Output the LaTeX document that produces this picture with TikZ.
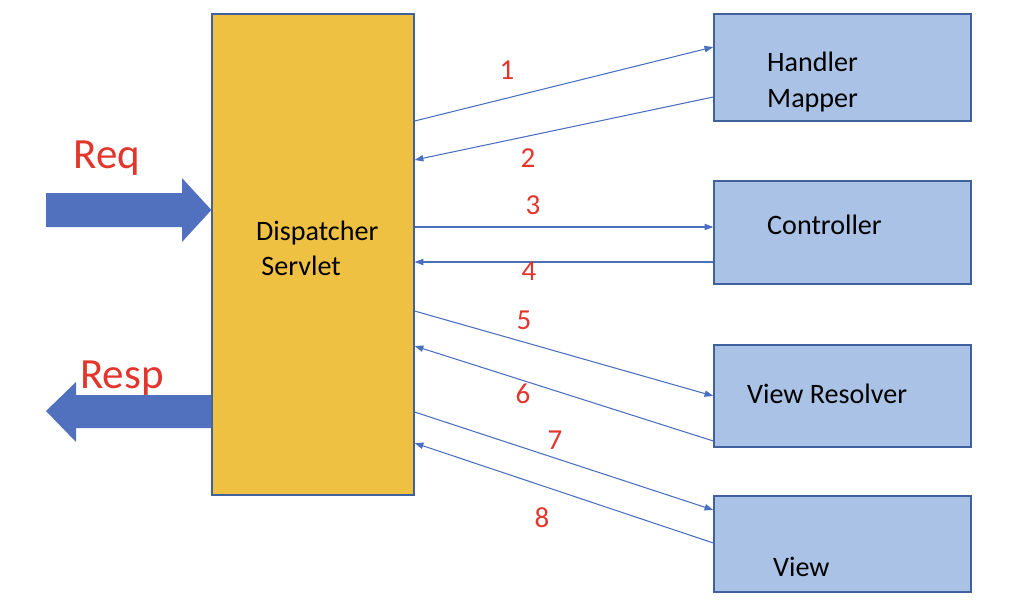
\documentclass[tikz,border=0pt]{standalone}
\usepackage{fontspec}
\setmainfont{Carlito}
\usetikzlibrary{arrows.meta}
\definecolor{servletgold}{HTML}{EFC142}
\definecolor{partblue}{HTML}{A9C2E5}
\definecolor{edgeblue}{HTML}{4A6FC0}
\definecolor{frameblue}{HTML}{41619C}
\definecolor{fatblue}{HTML}{5171BF}
\definecolor{numred}{HTML}{E2362C}
\begin{document}
\begin{tikzpicture}[x=0.02cm,y=-0.02cm,
    servlet/.style={draw=frameblue,fill=servletgold,line width=0.7pt,minimum width=4.04cm,minimum height=9.62cm,inner sep=0pt},
    part/.style={draw=frameblue,fill=partblue,line width=0.8pt,minimum width=5.14cm,inner sep=0pt},
    word/.style={font=\fontsize{16}{20}\selectfont,align=left,anchor=west},
    num/.style={text=numred,font=\fontsize{16.5}{19}\selectfont},
    big/.style={text=numred,font=\fontsize{24.5}{28}\selectfont},
    call/.style={edgeblue,line width=0.6pt,-{Triangle[length=5pt,width=3.6pt]}}]
  \useasboundingbox (0,0) rectangle (1028,615);
  % boxes
  \node[servlet] (ds) at (313,254.5) {};
  \node[part,minimum height=2.14cm] (hm) at (842.5,67.5) {};
  \node[part,minimum height=2.06cm] (ctl) at (842.5,232.5) {};
  \node[part,minimum height=2.04cm] (vr) at (842.5,396) {};
  \node[part,minimum height=1.92cm] (vw) at (842.5,544) {};
  % texts
  \node[word] (dst) at (250,248) {Dispatcher\\\hspace{3pt}Servlet};
  \node[word] (hmt) at (761,82) {Handler\\Mapper};
  \node[word] (ctlt) at (761,225) {Controller};
  \node[word] (vrt) at (741,394) {View Resolver};
  \node[word] (vwt) at (767,567) {View};
  % request and response
  \fill[fatblue] (46,193) -- (182,193) -- (182,178) -- (ds.west |- 0,210)
    -- (182,242) -- (182,227) -- (46,227) -- cycle;
  \fill[fatblue] (ds.west |- 0,395) -- (76,395) -- (76,382) -- (46,411)
    -- (76,442) -- (76,428) -- (ds.west |- 0,428) -- cycle;
  \node[big] (req) at (107,158) {Req};
  \node[big] (resp) at (122,378) {Resp};
  % calls
  \begin{scope}[call]
    \draw (ds.east |- 0,121) to (hm.west |- 0,47);
    \draw (hm.west |- 0,97) to (ds.east |- 0,160);
    \draw (ds.east |- 0,227) to (ctl.west |- 0,227);
    \draw (ctl.west |- 0,262) to (ds.east |- 0,262);
    \draw (ds.east |- 0,311) to (vr.west |- 0,396);
    \draw (vr.west |- 0,441) to (ds.east |- 0,346);
    \draw (ds.east |- 0,412) to (vw.west |- 0,510);
    \draw (vw.west |- 0,543) to (ds.east |- 0,443);
  \end{scope}
  \node[num] (n1) at (507,70) {1};
  \node[num] (n2) at (528,158) {2};
  \node[num] (n3) at (533,205) {3};
  \node[num] (n4) at (529,271) {4};
  \node[num] (n5) at (524,320) {5};
  \node[num] (n6) at (523,394) {6};
  \node[num] (n7) at (555,440) {7};
  \node[num] (n8) at (542,518) {8};
\end{tikzpicture}
\end{document}
